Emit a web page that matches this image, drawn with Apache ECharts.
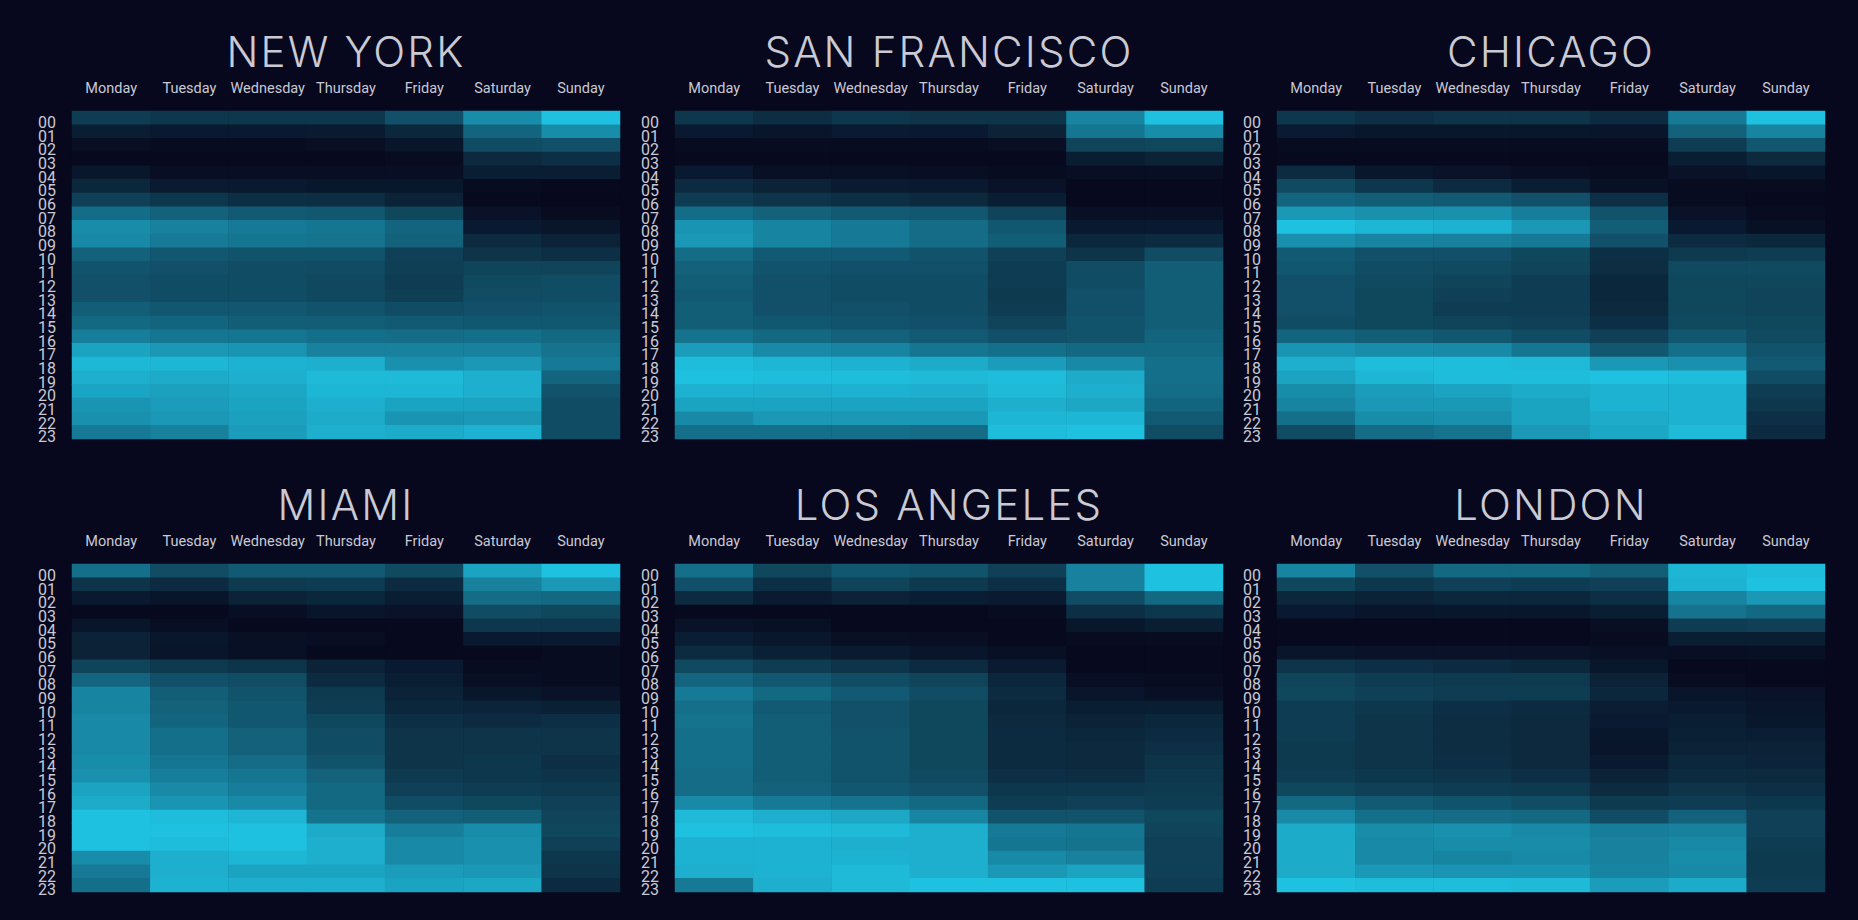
<!DOCTYPE html>
<html>
<head>
<meta charset="utf-8">
<title>Heatmaps by city</title>
<style>
  html, body { margin: 0; height: 100%; background: #07071d; }
  #chart { width: 1858px; height: 920px; }
  /* ECharts has no letter spacing option, the city titles are spaced out in the original */
  #chart svg text[style*="42px"] { letter-spacing: 2.2px; }
</style>
<script src="https://cdn.jsdelivr.net/npm/echarts@6/dist/echarts.min.js"></script>
</head>
<body>
<div id="chart"></div>
<script>
const days = ['Monday', 'Tuesday', 'Wednesday', 'Thursday', 'Friday', 'Saturday', 'Sunday'];
const hours = ['00', '01', '02', '03', '04', '05', '06', '07', '08', '09', '10', '11',
  '12', '13', '14', '15', '16', '17', '18', '19', '20', '21', '22', '23'];
const cities = ['NEW YORK', 'SAN FRANCISCO', 'CHICAGO', 'MIAMI', 'LOS ANGELES', 'LONDON'];

// one row per hour, Monday..Sunday, brightness 0-100
const newYork = [
  [26, 22, 22, 22, 38, 72, 100], [10, 8, 8, 9, 14, 50, 72], [3, 2, 2, 3, 6, 36, 38], [1, 1, 1, 1, 2, 15, 18],
  [7, 3, 3, 3, 3, 10, 10], [14, 9, 8, 7, 7, 2, 1], [28, 22, 18, 17, 12, 1, 0], [55, 48, 44, 42, 32, 5, 2],
  [72, 66, 62, 60, 50, 8, 6], [70, 62, 60, 58, 48, 16, 12], [48, 42, 40, 40, 28, 20, 18], [40, 38, 36, 35, 27, 30, 30],
  [38, 36, 36, 33, 26, 34, 36], [38, 36, 36, 33, 27, 36, 36], [46, 42, 42, 40, 36, 38, 40], [52, 50, 46, 46, 44, 42, 42],
  [64, 60, 60, 56, 54, 56, 52], [84, 78, 76, 66, 66, 66, 58], [95, 94, 92, 90, 74, 78, 62], [90, 88, 90, 96, 96, 90, 50],
  [85, 82, 86, 94, 94, 90, 40], [76, 80, 84, 90, 84, 84, 36], [74, 78, 82, 88, 76, 78, 36], [62, 66, 80, 90, 88, 92, 36]
];
const sanFrancisco = [
  [22, 17, 22, 20, 20, 68, 100], [8, 6, 9, 8, 12, 60, 72], [2, 2, 2, 2, 3, 30, 32], [1, 1, 1, 1, 1, 10, 12],
  [8, 4, 4, 3, 2, 3, 3], [16, 12, 9, 8, 5, 1, 1], [26, 20, 18, 15, 10, 1, 1], [55, 48, 44, 42, 30, 4, 4],
  [76, 68, 62, 54, 42, 8, 8], [78, 68, 62, 54, 46, 14, 16], [54, 44, 44, 40, 28, 20, 36], [48, 40, 38, 38, 26, 36, 46],
  [46, 38, 36, 36, 25, 36, 46], [44, 38, 36, 36, 24, 38, 46], [46, 38, 38, 36, 26, 38, 46], [46, 42, 40, 38, 30, 40, 46],
  [58, 52, 48, 44, 38, 40, 50], [80, 70, 68, 60, 56, 52, 52], [98, 94, 92, 88, 80, 70, 56], [100, 98, 98, 96, 98, 88, 56],
  [92, 90, 92, 90, 96, 90, 54], [84, 84, 84, 84, 90, 86, 50], [70, 78, 78, 78, 94, 94, 44], [56, 56, 56, 54, 98, 100, 36]
];
const chicago = [
  [22, 18, 20, 20, 16, 62, 100], [9, 7, 7, 7, 6, 48, 68], [2, 2, 2, 2, 2, 25, 42], [1, 1, 1, 1, 1, 10, 15],
  [16, 7, 5, 3, 2, 5, 6], [34, 22, 16, 10, 4, 2, 2], [50, 46, 44, 38, 18, 2, 1], [78, 74, 74, 64, 40, 5, 2],
  [100, 94, 92, 78, 46, 8, 4], [74, 68, 66, 62, 38, 16, 14], [44, 38, 38, 32, 18, 24, 26], [42, 36, 34, 30, 17, 34, 34],
  [38, 34, 30, 26, 14, 32, 32], [38, 32, 28, 26, 14, 32, 30], [38, 32, 26, 26, 15, 32, 30], [36, 32, 30, 28, 18, 34, 32],
  [50, 46, 42, 36, 28, 42, 34], [76, 72, 70, 60, 42, 56, 40], [90, 98, 98, 96, 78, 74, 44], [84, 94, 98, 98, 100, 98, 36],
  [72, 80, 84, 88, 92, 92, 26], [68, 78, 78, 84, 92, 92, 22], [56, 72, 74, 84, 88, 92, 18], [36, 54, 58, 78, 86, 96, 16]
];
const miami = [
  [56, 36, 44, 44, 34, 84, 100], [20, 16, 24, 25, 16, 66, 78], [8, 6, 12, 14, 10, 54, 52], [1, 1, 3, 6, 5, 36, 32],
  [6, 3, 1, 1, 1, 22, 22], [12, 7, 4, 3, 1, 8, 8], [12, 6, 4, 1, 1, 1, 2], [30, 24, 20, 12, 8, 2, 2],
  [50, 38, 36, 16, 10, 3, 2], [68, 46, 40, 24, 12, 7, 5], [68, 48, 42, 26, 14, 13, 11], [70, 50, 42, 32, 18, 16, 18],
  [70, 56, 48, 36, 20, 20, 20], [70, 56, 48, 36, 20, 20, 20], [72, 60, 54, 40, 20, 22, 18], [74, 64, 60, 48, 24, 22, 20],
  [84, 70, 64, 52, 28, 26, 24], [88, 76, 70, 52, 36, 32, 28], [100, 98, 94, 58, 48, 46, 30], [100, 100, 100, 88, 64, 72, 32],
  [100, 98, 100, 90, 70, 74, 28], [72, 90, 94, 90, 70, 74, 22], [62, 90, 84, 84, 80, 78, 20], [56, 92, 90, 90, 84, 86, 16]
];
const losAngeles = [
  [56, 32, 42, 40, 28, 66, 100], [38, 18, 30, 24, 18, 66, 100], [16, 9, 12, 10, 9, 36, 52], [1, 1, 1, 1, 2, 18, 22],
  [5, 4, 1, 1, 1, 7, 10], [10, 7, 4, 3, 1, 2, 2], [16, 11, 9, 6, 4, 1, 1], [34, 26, 20, 16, 9, 1, 1],
  [50, 42, 36, 30, 14, 3, 2], [62, 52, 44, 36, 16, 6, 4], [56, 44, 38, 32, 14, 10, 10], [58, 46, 38, 32, 15, 12, 14],
  [56, 46, 40, 32, 16, 14, 16], [56, 46, 40, 32, 16, 15, 18], [56, 46, 40, 32, 16, 15, 20], [54, 46, 40, 34, 18, 17, 22],
  [54, 48, 42, 38, 22, 22, 24], [70, 62, 58, 52, 26, 28, 26], [96, 90, 86, 68, 40, 40, 32], [100, 98, 96, 90, 62, 60, 30],
  [92, 92, 90, 90, 60, 58, 28], [92, 92, 92, 90, 70, 66, 28], [90, 92, 96, 90, 78, 84, 28], [62, 90, 96, 100, 100, 100, 26]
];
const london = [
  [68, 38, 52, 52, 46, 94, 98], [32, 22, 28, 26, 28, 92, 100], [14, 12, 14, 14, 18, 68, 78], [8, 6, 7, 7, 10, 58, 52],
  [1, 1, 1, 1, 3, 25, 28], [1, 1, 1, 1, 2, 10, 10], [6, 5, 5, 5, 4, 3, 4], [20, 18, 16, 14, 7, 1, 1],
  [30, 26, 24, 24, 12, 2, 1], [32, 28, 26, 26, 14, 6, 5], [26, 22, 18, 16, 10, 8, 6], [26, 20, 17, 15, 9, 10, 7],
  [26, 20, 17, 15, 7, 11, 10], [24, 20, 17, 15, 6, 12, 12], [24, 20, 18, 15, 8, 14, 13], [26, 22, 20, 18, 12, 16, 15],
  [32, 28, 26, 24, 16, 20, 18], [52, 44, 40, 36, 24, 26, 22], [70, 56, 54, 52, 36, 48, 28], [88, 72, 74, 70, 64, 66, 28],
  [88, 70, 72, 72, 66, 70, 26], [88, 70, 68, 70, 66, 72, 24], [88, 78, 76, 76, 68, 70, 24], [100, 98, 98, 96, 80, 88, 26]
];
const cityValues = [newYork, sanFrancisco, chicago, miami, losAngeles, london];

const gridLefts = [72, 675, 1277];
const gridTops = [111, 564];
const gridWidth = 548;
const gridHeight = 328;
const textColor = '#c9cad4';

const chart = echarts.init(document.getElementById('chart'), null, { renderer: 'svg' });
const grids = [], xAxes = [], yAxes = [], titles = [], series = [];

cities.forEach((city, i) => {
  const left = gridLefts[i % 3];
  const top = gridTops[Math.floor(i / 3)];
  grids.push({ left: left, top: top, width: gridWidth, height: gridHeight });
  titles.push({
    text: city,
    left: left + gridWidth / 2,
    top: top - 81,
    padding: 0,
    textAlign: 'center',
    textStyle: { color: textColor, fontFamily: 'Inter', fontWeight: 300, fontSize: 42 }
  });
  xAxes.push({
    type: 'category', gridIndex: i, position: 'top', data: days,
    axisLine: { show: false }, axisTick: { show: false }, splitLine: { show: false },
    axisLabel: { color: textColor, fontFamily: 'Roboto', fontSize: 14.5, margin: 15, interval: 0 }
  });
  yAxes.push({
    type: 'category', gridIndex: i, inverse: true, data: hours,
    axisLine: { show: false }, axisTick: { show: false }, splitLine: { show: false },
    axisLabel: {
      color: textColor, fontFamily: 'Roboto', fontSize: 16, margin: 16, interval: 0,
      verticalAlign: 'top', lineHeight: 9
    }
  });
  const cells = [];
  cityValues[i].forEach((row, h) => row.forEach((v, d) => cells.push([d, h, v])));
  series.push({
    type: 'heatmap', xAxisIndex: i, yAxisIndex: i, data: cells,
    itemStyle: { borderWidth: 0 }, emphasis: { disabled: true }, silent: true
  });
});

chart.setOption({
  animation: false,
  backgroundColor: '#07071d',
  title: titles,
  grid: grids,
  xAxis: xAxes,
  yAxis: yAxes,
  visualMap: {
    show: false, min: 0, max: 100, seriesIndex: [0, 1, 2, 3, 4, 5],
    inRange: { color: ['#07071d', '#0d3449', '#11536b', '#157692', '#1a9cba', '#1fc1e0'] }
  },
  series: series
});
</script>
</body>
</html>
